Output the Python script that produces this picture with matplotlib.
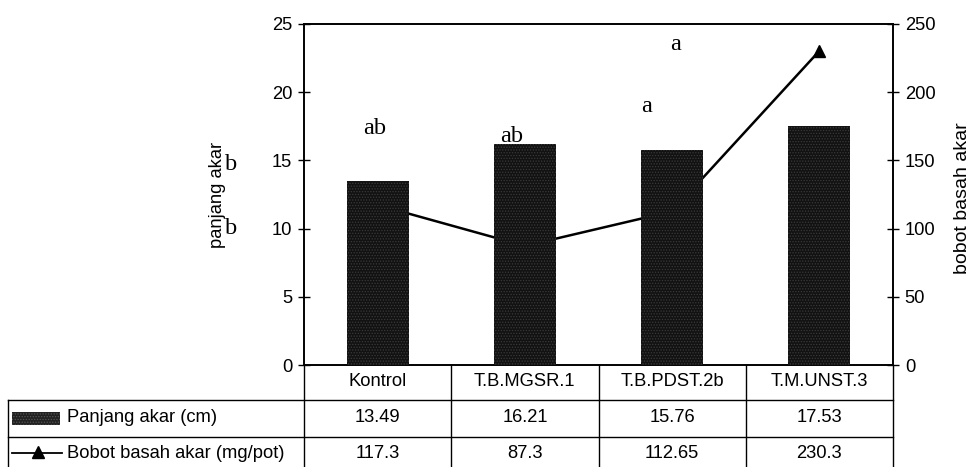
import matplotlib
matplotlib.use("Agg")
import matplotlib.pyplot as plt
from matplotlib.lines import Line2D
from matplotlib.patches import Rectangle
import numpy as np

categories = ["Kontrol", "T.B.MGSR.1", "T.B.PDST.2b", "T.M.UNST.3"]
panjang = [13.49, 16.21, 15.76, 17.53]
bobot = [117.3, 87.3, 112.65, 230.3]
panjang_txt = ["13.49", "16.21", "15.76", "17.53"]
bobot_txt = ["117.3", "87.3", "112.65", "230.3"]
series_names = ["Panjang akar (cm)", "Bobot basah akar (mg/pot)"]
left_ticks = [0, 5, 10, 15, 20, 25]
right_ticks = [0, 50, 100, 150, 200, 250]

plt.rcParams['font.family'] = ['Liberation Sans', 'DejaVu Sans']
plt.rcParams['hatch.linewidth'] = 0.6
FS = 13.2

W, H = 972, 467
fig = plt.figure(figsize=(W / 100, H / 100), dpi=100)
L, R, T, B = 304, 893, 24, 365
ax = fig.add_axes([L / W, 1 - B / H, (R - L) / W, (B - T) / H])
ax2 = ax.twinx()
ax.set_zorder(ax2.get_zorder() + 1)
ax.patch.set_visible(False)

x = np.arange(len(categories))
ax.bar(x, panjang, width=0.42, color="#121212", edgecolor="#3a3a3a", hatch="......", lw=0, zorder=3)
ax2.plot(x, bobot, color="black", lw=1.8, marker="^", markersize=9, zorder=2)

ax.set_xlim(-0.5, len(categories) - 0.5)
ax.set_ylim(0, 25)
ax2.set_ylim(0, 250)
ax.set_yticks(left_ticks)
ax2.set_yticks(right_ticks)
ax.set_xticks([])
for a in (ax, ax2):
    a.tick_params(axis="y", direction="inout", length=9, width=1, labelsize=FS, colors="black", pad=4)
    for s in a.spines.values():
        s.set_linewidth(1.2)
ax.set_ylabel("panjang akar", fontsize=FS)
ax.yaxis.set_label_coords((226 - L) / (R - L), 0.5)
ax2.set_ylabel("bobot basah akar", fontsize=14)
ax2.yaxis.set_label_coords((954 - L) / (R - L), 0.49)

# significance letters (pixel positions converted to axes fraction)
letters = ["ab", "ab", "a", "a", "b", "b"]
letter_px = [(375, 129), (512, 136), (647, 107), (676, 45), (231, 165), (231, 228)]
for t, (px, py) in zip(letters, letter_px):
    ax.text((px - L) / (R - L), (B - py) / (B - T), t, transform=ax.transAxes,
            ha="center", va="center", fontsize=17.5, family="Liberation Serif", clip_on=False)

# data table
def fx(px):
    return (px - L) / (R - L)

def fy(py):
    return (B - py) / (B - T)

tr = ax.transAxes
n = len(categories)
lw = 1.0
ax.add_line(Line2D([fx(8), 1], [fy(400), fy(400)], transform=tr, color="black", lw=lw, clip_on=False))
ax.add_line(Line2D([fx(8), 1], [fy(437), fy(437)], transform=tr, color="black", lw=lw, clip_on=False))
ax.add_line(Line2D([fx(8), 1], [fy(472), fy(472)], transform=tr, color="black", lw=lw, clip_on=False))
for i in range(n + 1):
    ax.add_line(Line2D([i / n, i / n], [0, fy(472)], transform=tr, color="black", lw=lw, clip_on=False))
ax.add_line(Line2D([fx(8), fx(8)], [fy(400), fy(472)], transform=tr, color="black", lw=lw, clip_on=False))

for i, c in enumerate(categories):
    cx = (i + 0.5) / n
    ax.text(cx, fy(381), c, transform=tr, ha="center", va="center", fontsize=FS, clip_on=False)
    ax.text(cx, fy(418), panjang_txt[i], transform=tr, ha="center", va="center", fontsize=FS, clip_on=False)
    ax.text(cx, fy(454), bobot_txt[i], transform=tr, ha="center", va="center", fontsize=FS, clip_on=False)

# legend keys in table
ax.add_patch(Rectangle((fx(12), fy(425)), fx(60) - fx(12), fy(412) - fy(425), transform=tr,
                       facecolor="#222222", edgecolor="#555555", hatch="......", lw=0, clip_on=False))
ax.add_line(Line2D([fx(12), fx(62)], [fy(453), fy(453)], transform=tr, color="black", lw=1.3, clip_on=False))
ax.add_line(Line2D([fx(38)], [fy(452)], transform=tr, color="black", marker="^", markersize=8, lw=0, clip_on=False))
ax.text(fx(67), fy(418), series_names[0], transform=tr, ha="left", va="center", fontsize=FS, clip_on=False)
ax.text(fx(67), fy(454), series_names[1], transform=tr, ha="left", va="center", fontsize=FS, clip_on=False)

fig.savefig("out.png", dpi=100)
